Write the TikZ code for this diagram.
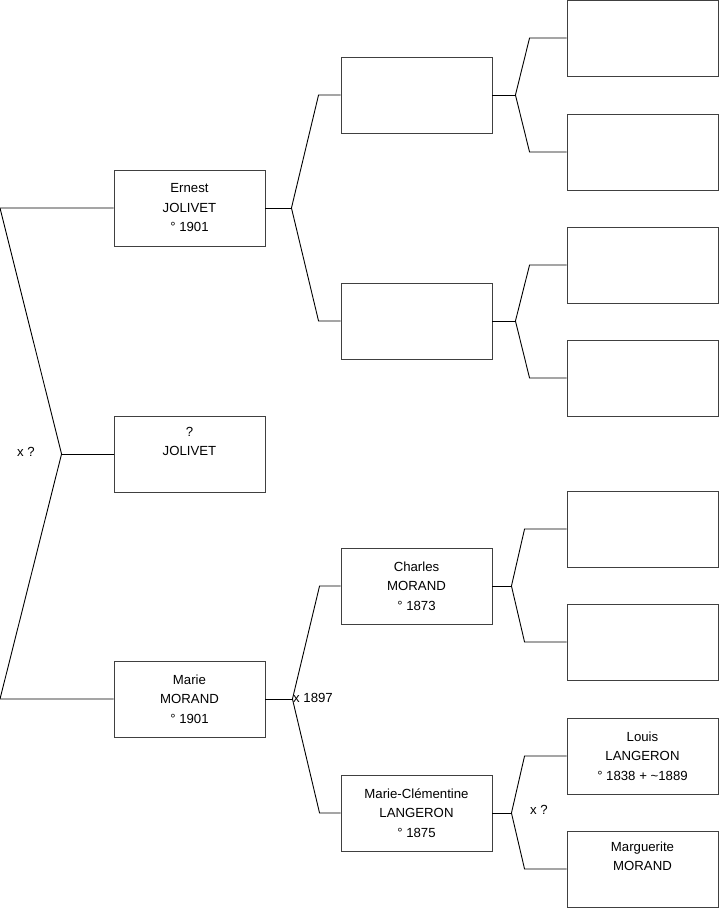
\documentclass[tikz,border=0pt]{standalone}
\usepackage{fontspec}
\setmainfont{Liberation Sans}
\begin{document}
\begin{tikzpicture}[x=1pt,y=-1pt,
  box/.style={draw=black!75,line width=0.9pt,minimum width=151pt,minimum height=76pt,inner sep=0pt,align=center,font=\fontsize{13.2}{19.5}\selectfont},
  link/.style={draw=black,line width=0.9pt},
  lbl/.style={font=\fontsize{13.2}{15}\selectfont,inner sep=0pt}]
\useasboundingbox (0,0) rectangle (719,908);
% level 1
\node[box] (e) at (189.5,208) {Ernest\\JOLIVET\\° 1901};
\node[box] (j) at (189.5,454) {?\\JOLIVET\\\strut};
\node[box] (m) at (189.5,699) {Marie\\MORAND\\° 1901};
% level 2
\node[box] (g1) at (416.5,95) {};
\node[box] (g2) at (416.5,321) {};
\node[box] (c) at (416.5,586) {Charles\\MORAND\\° 1873};
\node[box] (mc) at (416.5,813) {Marie-Clémentine\\LANGERON\\° 1875};
% level 3
\node[box] (h1) at (642.5,38) {};
\node[box] (h2) at (642.5,152) {};
\node[box] (h3) at (642.5,265) {};
\node[box] (h4) at (642.5,378) {};
\node[box] (h5) at (642.5,529) {};
\node[box] (h6) at (642.5,642) {};
\node[box] (ll) at (642.5,756) {Louis\\LANGERON\\° 1838 + \textasciitilde 1889};
\node[box] (mm) at (642.5,869) {Marguerite\\MORAND\\\strut};
% root fork
\coordinate (L) at (0,0);
\coordinate (r) at ([xshift=-52pt]j.west);
\draw[link] (e.west) -- (e.west -| L) -- (r) -- (m.west -| L) -- (m.west);
\draw[link] (r) -- (j.west);
\node[lbl] (x0) at (26,452) {x ?};
% Ernest fork
\coordinate (v1) at ([xshift=26pt]e.east);
\draw[link] (e.east) -- (v1);
\draw[link] (v1) -- ([xshift=-22pt]g1.west) -- (g1.west);
\draw[link] (v1) -- ([xshift=-22pt]g2.west) -- (g2.west);
% Marie fork
\coordinate (v2) at ([xshift=27pt]m.east);
\draw[link] (m.east) -- (v2);
\draw[link] (v2) -- ([xshift=-21pt]c.west) -- (c.west);
\draw[link] (v2) -- ([xshift=-21pt]mc.west) -- (mc.west);
\node[lbl,anchor=west] (x1) at (293,698) {x 1897};
% g1 fork
\coordinate (v3) at ([xshift=23pt]g1.east);
\draw[link] (g1.east) -- (v3);
\draw[link] (v3) -- ([xshift=-37pt]h1.west) -- (h1.west);
\draw[link] (v3) -- ([xshift=-37pt]h2.west) -- (h2.west);
% g2 fork
\coordinate (v4) at ([xshift=23pt]g2.east);
\draw[link] (g2.east) -- (v4);
\draw[link] (v4) -- ([xshift=-37pt]h3.west) -- (h3.west);
\draw[link] (v4) -- ([xshift=-37pt]h4.west) -- (h4.west);
% Charles fork
\coordinate (v5) at ([xshift=19pt]c.east);
\draw[link] (c.east) -- (v5);
\draw[link] (v5) -- ([xshift=-42pt]h5.west) -- (h5.west);
\draw[link] (v5) -- ([xshift=-42pt]h6.west) -- (h6.west);
% Marie-Clementine fork
\coordinate (v6) at ([xshift=19pt]mc.east);
\draw[link] (mc.east) -- (v6);
\draw[link] (v6) -- ([xshift=-42pt]ll.west) -- (ll.west);
\draw[link] (v6) -- ([xshift=-42pt]mm.west) -- (mm.west);
\node[lbl] (x2) at (539,810) {x ?};
\end{tikzpicture}
\end{document}
